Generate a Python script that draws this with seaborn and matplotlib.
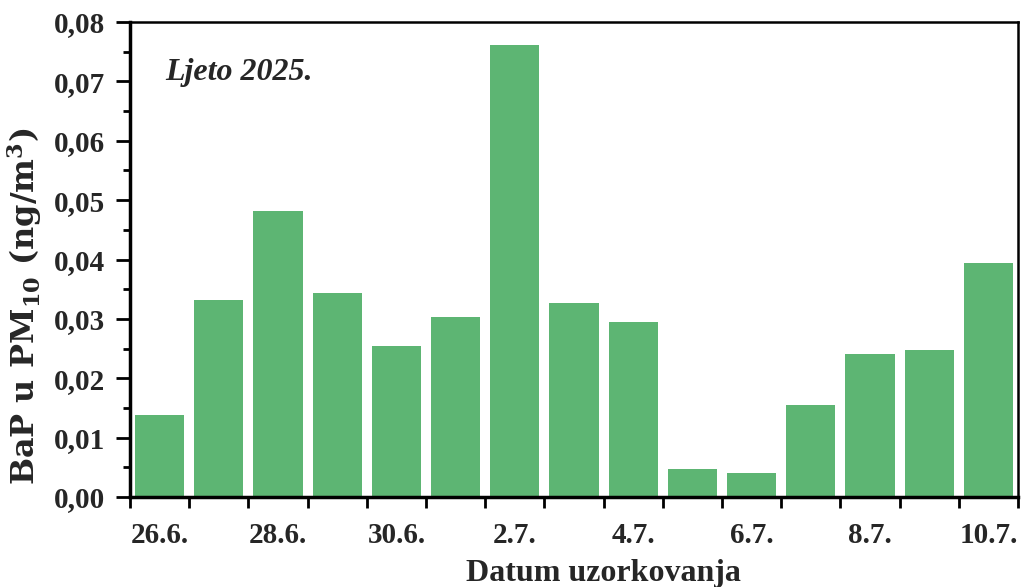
import matplotlib
matplotlib.use("Agg")
import matplotlib.pyplot as plt
import seaborn as sns
import pandas as pd
import numpy as np
from matplotlib.ticker import FixedLocator, MultipleLocator, FuncFormatter

dates = ["26.6.", "27.6.", "28.6.", "29.6.", "30.6.", "1.7.", "2.7.", "3.7.",
         "4.7.", "5.7.", "6.7.", "7.7.", "8.7.", "9.7.", "10.7."]
bap = [0.0138, 0.0331, 0.0481, 0.0343, 0.0255, 0.0303, 0.0762, 0.0327,
       0.0294, 0.0047, 0.0040, 0.0155, 0.0241, 0.0248, 0.0394]

df = pd.DataFrame({"datum": dates, "bap": bap})

sns.set_style("white")
plt.rcParams["font.family"] = ["Liberation Serif", "DejaVu Serif"]
plt.rcParams["font.weight"] = "bold"
plt.rcParams["mathtext.fontset"] = "dejavuserif"

fig = plt.figure(figsize=(10.23, 5.87), dpi=100)
ax = fig.add_axes([130/1023, 1 - 497/587, 888/1023, 475/587])

sns.barplot(data=df, x="datum", y="bap", color="#5db573", saturation=1,
            width=0.83, ax=ax, edgecolor="none")

ax.set_xlim(-0.5, len(dates) - 0.5)
ax.set_ylim(0, 0.08)

# x ticks: labels on every other bar (no tick line), tick marks at bar edges
label_pos = list(range(0, len(dates), 2))
ax.xaxis.set_major_locator(FixedLocator(label_pos))
ax.set_xticklabels([dates[i] for i in label_pos])
ax.xaxis.set_minor_locator(FixedLocator(np.arange(-0.5, len(dates), 1.0)))
ax.tick_params(axis="x", which="major", length=0, pad=18, labelsize=21)
ax.tick_params(axis="x", which="minor", length=8, width=2, direction="out",
               bottom=True, color="black")

# y ticks
ax.yaxis.set_major_locator(MultipleLocator(0.01))
ax.yaxis.set_minor_locator(MultipleLocator(0.005))
ax.yaxis.set_major_formatter(FuncFormatter(lambda v, p: f"{v:.2f}".replace(".", ",")))
ax.tick_params(axis="y", which="major", length=10, width=2, direction="out",
               left=True, pad=8, labelsize=21, color="black")
ax.tick_params(axis="y", which="minor", length=5, width=2, direction="out",
               left=True, color="black")

for lab in ax.get_xticklabels() + ax.get_yticklabels():
    lab.set_fontweight("bold")

for side in ["left", "bottom"]:
    ax.spines[side].set_linewidth(2.5)
    ax.spines[side].set_color("black")
for side in ["top", "right"]:
    ax.spines[side].set_linewidth(1.8)
    ax.spines[side].set_color("black")
    ax.spines[side].set_visible(True)

ax.set_xlabel("Datum uzorkovanja", fontsize=23, fontweight="bold")
ax.xaxis.set_label_coords((603 - 130) / 888, -0.131)
ax.set_ylabel(r"BaP u PM$_{\mathbf{10}}$ (ng/m$^{\mathbf{3}}$)", fontsize=23,
              fontweight="bold", family="DejaVu Serif")
ax.yaxis.set_label_coords(-(130 - 25) / 888, (497 - 306) / 475)
ax.yaxis.label.set_va("center")

ax.text((165 - 130) / 888, (497 - 80) / 475, "Ljeto 2025.", transform=ax.transAxes,
        fontsize=23, fontweight="bold", fontstyle="italic", va="baseline", ha="left")

fig.savefig("out.png", dpi=100)
